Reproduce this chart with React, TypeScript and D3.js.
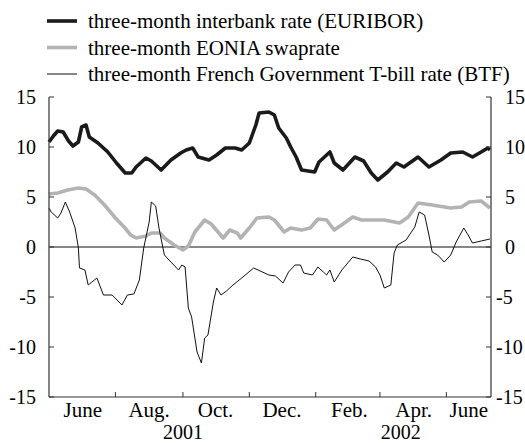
import React from "react";
import * as d3 from "d3";

const W = 525;
const H = 443;

const yTicks = [-15, -10, -5, 0, 5, 10, 15];
const xTickDates = ["2001-07-01", "2001-09-01", "2001-11-01", "2002-01-01", "2002-03-01", "2002-05-01"];
const monthLabels = ["June", "Aug.", "Oct.", "Dec.", "Feb.", "Apr.", "June"];
const monthLabelDates = ["2001-06-01", "2001-08-01", "2001-10-01", "2001-12-01", "2002-02-01", "2002-04-01", "2002-06-01"];
const yearLabels = ["2001", "2002"];
const yearLabelDates = ["2001-09-01", "2002-03-20"];

const seriesNames = [
  "three-month interbank rate (EURIBOR)",
  "three-month EONIA swaprate",
  "three-month French Government T-bill rate (BTF)",
];

const euriborDates = [
  "2001-05-01", "2001-05-05", "2001-05-09", "2001-05-14", "2001-05-19", "2001-05-23", "2001-05-28", "2001-05-31",
  "2001-06-04", "2001-06-07", "2001-06-15", "2001-06-24", "2001-07-02", "2001-07-10", "2001-07-16", "2001-07-20",
  "2001-07-29", "2001-08-03", "2001-08-07", "2001-08-12", "2001-08-21", "2001-08-30", "2001-09-04", "2001-09-10",
  "2001-09-15", "2001-09-25", "2001-10-02", "2001-10-10", "2001-10-19", "2001-10-25", "2001-11-01", "2001-11-07",
  "2001-11-10", "2001-11-19", "2001-11-24", "2001-11-28", "2001-12-05", "2001-12-09", "2001-12-14", "2001-12-19",
  "2001-12-31", "2002-01-04", "2002-01-14", "2002-01-18", "2002-01-26", "2002-02-06", "2002-02-14", "2002-02-21",
  "2002-02-27", "2002-03-08", "2002-03-16", "2002-03-23", "2002-04-05", "2002-04-15", "2002-04-26", "2002-05-05",
  "2002-05-16", "2002-05-25", "2002-06-02", "2002-06-08", "2002-06-10",
];
const euriborValues = [
  10.5, 11.1, 11.6, 11.5, 10.6, 10.1, 10.5, 12.0,
  12.2, 11.0, 10.4, 9.5, 8.4, 7.4, 7.4, 8.0,
  8.9, 8.6, 8.2, 7.7, 8.7, 9.4, 9.7, 9.9,
  9.0, 8.7, 9.2, 9.9, 9.9, 9.7, 10.4, 12.2,
  13.4, 13.5, 13.2, 11.9, 10.9, 10.0, 9.0, 7.7,
  7.5, 8.5, 9.5, 8.4, 7.7, 9.0, 8.6, 7.4,
  6.7, 7.5, 8.4, 8.0, 9.0, 8.0, 8.7, 9.4,
  9.5, 9.0, 9.5, 9.9, 9.7,
];

const eoniaDates = [
  "2001-05-01", "2001-05-09", "2001-05-18", "2001-05-28", "2001-06-04", "2001-06-12", "2001-06-21", "2001-07-01",
  "2001-07-09", "2001-07-15", "2001-07-20", "2001-07-29", "2001-08-03", "2001-08-11", "2001-08-15", "2001-08-24",
  "2001-09-01", "2001-09-06", "2001-09-12", "2001-09-21", "2001-09-27", "2001-10-08", "2001-10-14", "2001-10-21",
  "2001-10-24", "2001-11-01", "2001-11-08", "2001-11-19", "2001-11-24", "2001-12-03", "2001-12-09", "2001-12-19",
  "2001-12-27", "2002-01-03", "2002-01-11", "2002-01-18", "2002-01-26", "2002-02-04", "2002-02-12", "2002-02-27",
  "2002-03-05", "2002-03-19", "2002-03-27", "2002-04-05", "2002-04-18", "2002-05-05", "2002-05-15", "2002-05-22",
  "2002-06-02", "2002-06-10",
];
const eoniaValues = [
  5.3, 5.4, 5.7, 5.9, 5.8, 5.2, 4.2, 2.9,
  2.0, 1.2, 0.9, 1.1, 1.4, 1.4, 0.9, 0.2,
  -0.3, 0.1, 1.5, 2.7, 2.3, 0.9, 1.7, 1.4,
  0.9, 1.9, 2.9, 3.0, 2.7, 1.5, 1.9, 1.7,
  1.9, 2.8, 2.7, 1.7, 2.3, 3.0, 2.7, 2.7,
  2.7, 2.4, 3.0, 4.4, 4.2, 3.9, 4.0, 4.5,
  4.6, 3.9,
];

const btfDates = [
  "2001-05-01", "2001-05-03", "2001-05-09", "2001-05-12", "2001-05-16", "2001-05-20", "2001-05-25", "2001-05-28",
  "2001-05-29", "2001-06-03", "2001-06-06", "2001-06-14", "2001-06-20", "2001-06-28", "2001-07-07", "2001-07-12",
  "2001-07-18", "2001-07-23", "2001-07-27", "2001-08-01", "2001-08-03", "2001-08-07", "2001-08-10", "2001-08-15",
  "2001-08-21", "2001-08-28", "2001-08-31", "2001-09-03", "2001-09-06", "2001-09-09", "2001-09-14", "2001-09-18",
  "2001-09-21", "2001-09-24", "2001-09-29", "2001-10-02", "2001-10-06", "2001-10-11", "2001-10-17", "2001-10-25",
  "2001-11-05", "2001-11-11", "2001-11-19", "2001-11-25", "2001-12-02", "2001-12-07", "2001-12-13", "2001-12-18",
  "2001-12-21", "2001-12-29", "2002-01-03", "2002-01-08", "2002-01-11", "2002-01-14", "2002-01-18", "2002-01-25",
  "2002-02-04", "2002-02-11", "2002-02-19", "2002-02-25", "2002-03-01", "2002-03-05", "2002-03-11", "2002-03-14",
  "2002-03-17", "2002-03-25", "2002-03-28", "2002-04-02", "2002-04-06", "2002-04-11", "2002-04-15", "2002-04-18",
  "2002-04-23", "2002-04-29", "2002-05-05", "2002-05-10", "2002-05-17", "2002-05-21", "2002-05-25", "2002-06-02",
  "2002-06-10",
];
const btfValues = [
  3.9, 3.5, 2.9, 3.4, 4.5, 3.5, 1.9, -0.1,
  -2.1, -2.3, -3.8, -3.1, -4.8, -4.8, -5.8, -4.8,
  -4.7, -3.3, -0.1, 2.5, 4.5, 4.1, 1.9, -0.8,
  -1.5, -2.3, -1.8, -2.0, -6.1, -7.0, -10.5, -11.6,
  -9.1, -8.8, -5.5, -4.1, -4.8, -4.4, -3.8, -3.1,
  -2.1, -2.4, -2.8, -2.9, -3.6, -2.5, -1.8, -1.8,
  -2.6, -2.8, -2.0, -2.5, -2.8, -2.3, -3.5, -2.3,
  -1.0, -1.2, -1.4, -2.0, -2.8, -4.1, -3.8, -0.6,
  0.2, 0.7, 1.2, 2.0, 3.5, 3.2, 1.2, -0.5,
  -0.8, -1.5, -0.8, 0.5, 1.9, 1.2, 0.4, 0.6,
  0.8,
];

const FONT = `"Liberation Serif"`;
const AXIS = "#333";

export default function App() {
  const x0 = 49, x1 = 491, yTop = 97, yBot = 397;
  const parse = (s: string) => new Date(s + "T00:00:00Z");
  const x = d3.scaleUtc().domain([parse("2001-05-01"), parse("2002-06-11")]).range([x0, x1]);
  const y = d3.scaleLinear().domain([-15, 15]).range([yBot, yTop]);

  const mk = (dates: string[], vals: number[]) => dates.map((d, i) => ({ d: parse(d), v: vals[i] }));
  const line = d3.line<{ d: Date; v: number }>().x((p) => x(p.d)).y((p) => y(p.v)).curve(d3.curveLinear);

  const series = [
    { data: mk(euriborDates, euriborValues), color: "#1a1a1a", width: 3.6 },
    { data: mk(eoniaDates, eoniaValues), color: "#b3b3b3", width: 3.6 },
    { data: mk(btfDates, btfValues), color: "#111", width: 1 },
  ];

  const legendY = [21, 47.5, 74];
  const fsLegend = 21;
  const fsAxis = 20;

  return (
    <svg width={W} height={H} style={{ position: "absolute", left: 0, top: 0 }}>
      <rect width={W} height={H} fill="#fff" />
      {seriesNames.map((n, i) => (
        <g key={n}>
          <line x1={47} x2={77} y1={legendY[i]} y2={legendY[i]} stroke={series[i].color} strokeWidth={series[i].width} />
          <text x={88} y={legendY[i] + 7} fontSize={fsLegend} style={{ fontFamily: FONT }}>{n}</text>
        </g>
      ))}
      <line x1={x0} x2={x1} y1={y(0)} y2={y(0)} stroke="#111" strokeWidth={1} />
      {series.map((s, i) => (
        <path key={i} d={line(s.data) || ""} fill="none" stroke={s.color} strokeWidth={s.width} strokeLinejoin="round" />
      ))}
      <line x1={x0} x2={x0} y1={yTop} y2={yBot} stroke={AXIS} strokeWidth={1.2} />
      <line x1={x1} x2={x1} y1={yTop} y2={yBot} stroke={AXIS} strokeWidth={1.2} />
      <line x1={x0} x2={x1} y1={yBot} y2={yBot} stroke={AXIS} strokeWidth={1.2} />
      {yTicks.map((t) => (
        <g key={t}>
          <line x1={x0} x2={x0 + 5} y1={y(t)} y2={y(t)} stroke={AXIS} strokeWidth={1} />
          <line x1={x1 - 5} x2={x1} y1={y(t)} y2={y(t)} stroke={AXIS} strokeWidth={1} />
          <text x={x0 - 13} y={y(t) + 7} fontSize={fsAxis} textAnchor="end" style={{ fontFamily: FONT }}>{t}</text>
          <text x={t < 0 ? x1 + 5 : x1 + 14} y={y(t) + 7} fontSize={fsAxis} textAnchor="start" style={{ fontFamily: FONT }}>{t}</text>
        </g>
      ))}
      {xTickDates.map((d) => (
        <line key={d} x1={x(parse(d))} x2={x(parse(d))} y1={yBot} y2={yBot - 5} stroke={AXIS} strokeWidth={1} />
      ))}
      {monthLabels.map((m, i) => {
        const last = i === monthLabels.length - 1;
        return (
          <text key={i} x={last ? x1 - 3 : x(parse(monthLabelDates[i]))} y={417} fontSize={fsLegend} textAnchor={last ? "end" : "middle"} style={{ fontFamily: FONT }}>{m}</text>
        );
      })}
      {yearLabels.map((yl, i) => (
        <text key={yl} x={x(parse(yearLabelDates[i]))} y={438.5} fontSize={fsAxis} textAnchor="middle" style={{ fontFamily: FONT }}>{yl}</text>
      ))}
    </svg>
  );
}
